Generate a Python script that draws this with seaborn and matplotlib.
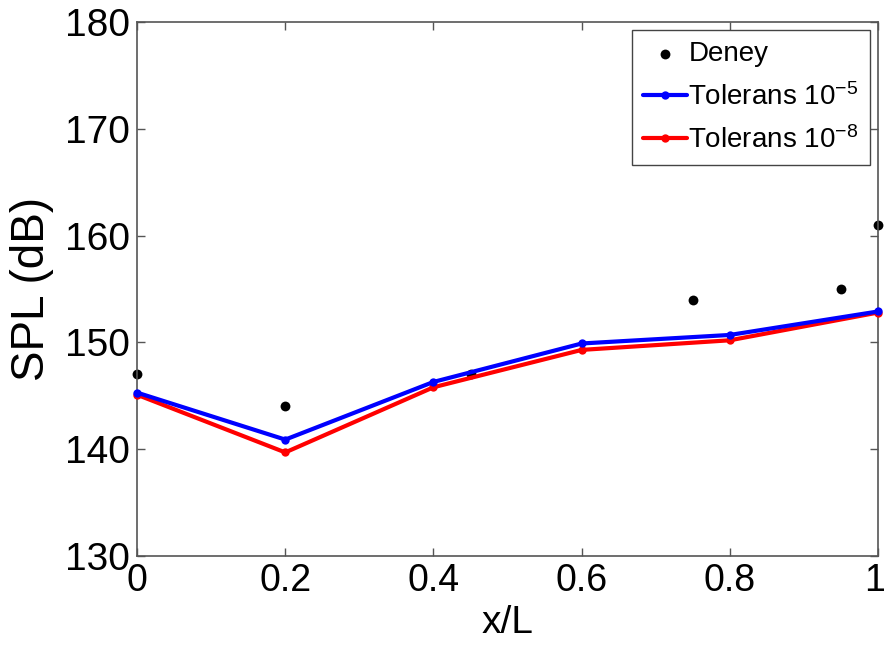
import matplotlib
matplotlib.use("Agg")
import matplotlib.pyplot as plt
import matplotlib.transforms as mtransforms
import seaborn as sns
import pandas as pd

deney_x = [0.0, 0.2, 0.45, 0.75, 0.95, 1.0]
deney_y = [147.0, 144.0, 147.0, 154.0, 155.0, 161.0]

tol_x = [0.0, 0.2, 0.4, 0.6, 0.8, 1.0]
tol5_y = [145.3, 140.9, 146.3, 149.9, 150.7, 152.9]
tol8_y = [145.1, 139.7, 145.8, 149.3, 150.2, 152.8]

x_ticks = [0, 0.2, 0.4, 0.6, 0.8, 1]
x_ticklabels = ["0", "0.2", "0.4", "0.6", "0.8", "1"]
y_ticks = [130, 140, 150, 160, 170, 180]

sns.set_theme(style="white")
plt.rcParams['font.family'] = ['Liberation Sans', 'DejaVu Sans']
plt.rcParams['mathtext.fontset'] = 'custom'
plt.rcParams['mathtext.rm'] = 'Liberation Sans'
plt.rcParams['axes.unicode_minus'] = False

fig = plt.figure(figsize=(8.87, 6.5), dpi=100)
ax = fig.add_axes([0.1545, 0.1446, 0.8355, 0.8215])

df_d = pd.DataFrame({"x": deney_x, "y": deney_y})
df_5 = pd.DataFrame({"x": tol_x, "y": tol5_y})
df_8 = pd.DataFrame({"x": tol_x, "y": tol8_y})

sns.scatterplot(data=df_d, x="x", y="y", ax=ax, color="black", s=50,
                edgecolor="black", linewidth=0, label="Deney", zorder=2,
                clip_on=False)
sns.lineplot(data=df_5, x="x", y="y", ax=ax, color="#0000ff", linewidth=3,
             marker="o", markersize=6, markeredgewidth=0,
             label="Tolerans 10$\\mathregular{^{-5}}$", zorder=4, clip_on=False)
sns.lineplot(data=df_8, x="x", y="y", ax=ax, color="#ff0000", linewidth=3,
             marker="o", markersize=6, markeredgewidth=0,
             label="Tolerans 10$\\mathregular{^{-8}}$", zorder=3, clip_on=False)

ax.set_xlim(0, 1)
ax.set_ylim(130, 180)
ax.set_xticks(x_ticks)
ax.set_xticklabels(x_ticklabels)
ax.set_yticks(y_ticks)
ax.tick_params(direction="in", length=6, width=1, labelsize=28, color="#555555",
               labelcolor="black", top=True, right=True, bottom=True, left=True,
               pad=5)
ax.tick_params(axis="x", labelsize=27)
# keep the last x tick label inside the canvas
lbls = ax.get_xticklabels()
lbls[-1].set_transform(lbls[-1].get_transform() +
                       mtransforms.ScaledTranslation(-4 / 100, 0, fig.dpi_scale_trans))
ax.set_xlabel("x/L", fontsize=28, labelpad=4, color="black")
ax.set_ylabel("SPL (dB)", fontsize=33, labelpad=8, color="black")
for s in ax.spines.values():
    s.set_color("#555555")
    s.set_linewidth(1.2)

leg = ax.legend(loc="upper right", fontsize=20, frameon=True, fancybox=False,
                edgecolor="#444444", framealpha=1, handlelength=1.6,
                handletextpad=0.05, borderpad=0.4, labelspacing=0.55,
                borderaxespad=0.3)
leg.get_frame().set_linewidth(1.0)
for t in leg.get_texts():
    t.set_color("black")

fig.savefig("out.png", dpi=100, facecolor="white")
